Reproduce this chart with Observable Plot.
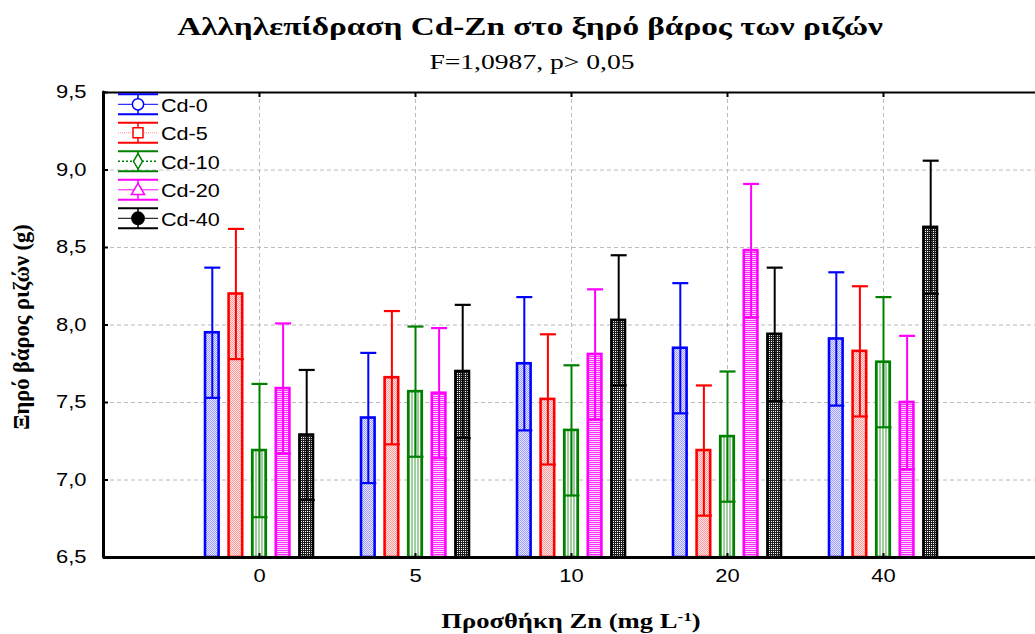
<!DOCTYPE html>
<html><head><meta charset="utf-8">
<script src="https://cdn.jsdelivr.net/npm/d3@7"></script>
<script src="https://cdn.jsdelivr.net/npm/@observablehq/plot@0.6"></script>
<style>
body{margin:0;background:#fff;}
#wrap{position:relative;width:1035px;height:634px;overflow:hidden;background:#fff;}
#wrap svg{position:absolute;left:0;top:0;}
.t{position:absolute;white-space:nowrap;font-family:"Liberation Serif","Times New Roman",serif;color:#000;line-height:1;}
#title{left:530px;top:14px;font-size:25px;font-weight:bold;transform:translateX(-50%) scaleX(1.33);}
#subtitle{left:532px;top:52px;font-size:20px;transform:translateX(-50%) scaleX(1.38);}
#xlabel{left:571px;top:610px;font-size:20px;font-weight:bold;transform:translateX(-50%) scaleX(1.33);}
#xlabel sup{font-size:13px;vertical-align:7px;}
#ylabel{left:22px;top:327px;font-size:22.5px;font-weight:bold;transform:translate(-50%,-50%) rotate(-90deg);}
</style></head><body>
<div id="wrap">
<div class="t" id="title">Αλληλεπίδραση Cd-Zn στο ξηρό βάρος των ριζών</div>
<div class="t" id="subtitle">F=1,0987, p&gt; 0,05</div>
<div class="t" id="xlabel">Προσθήκη Zn (mg L<sup>-1</sup>)</div>
<div class="t" id="ylabel">Ξηρό βάρος ριζών (g)</div>
</div>
<script>
// ---- data ----
const znLevels = ["0", "5", "10", "20", "40"];
const cdSeries = ["Cd-0", "Cd-5", "Cd-10", "Cd-20", "Cd-40"];
const cd0 = [7.95, 7.40, 7.75, 7.85, 7.91];
const cd5 = [8.20, 7.66, 7.52, 7.19, 7.83];
const cd10 = [7.19, 7.57, 7.32, 7.28, 7.76];
const cd20 = [7.59, 7.56, 7.81, 8.48, 7.50];
const cd40 = [7.29, 7.70, 8.03, 7.94, 8.63];
const err0 = [0.42, 0.42, 0.43, 0.42, 0.43];
const err5 = [0.42, 0.43, 0.42, 0.42, 0.42];
const err10 = [0.43, 0.42, 0.42, 0.42, 0.42];
const err20 = [0.42, 0.42, 0.42, 0.43, 0.43];
const err40 = [0.42, 0.43, 0.42, 0.43, 0.43];
const yTicks = [6.5, 7.0, 7.5, 8.0, 8.5, 9.0, 9.5];

const means = [cd0, cd5, cd10, cd20, cd40];
const errs = [err0, err5, err10, err20, err40];
const colors = ["#0000ff", "#ff0000", "#008000", "#ff00ff", "#000000"];

// ---- layout ----
const W = 1035, H = 634, mL = 103, mR = 0, mT = 92, mB = 77;
const plotW = W - mL - mR, plotH = H - mT - mB;
const unit = 156;                       // px per group step
const xMax = plotW / unit;
const step = 23.6 / unit, bw = 6.8 / unit, cw = 8 / unit;
const yDom = [yTicks[0], yTicks[yTicks.length - 1]];
const xPos = znLevels.map((z, i) => i + 1);

const rows = cdSeries.flatMap((s, si) => znLevels.map((z, gi) => ({
  s, si, gi, pos: gi + 1 + (si - 2) * step, mean: means[si][gi], err: errs[si][gi]
})));

const grid = {stroke: "#bcbcbc", strokeDasharray: "4,3", strokeWidth: 1};
const marks = [
  Plot.ruleY(yTicks.filter(v => v > yDom[0] && v < yDom[1]), {y: d => d, ...grid}),
  Plot.ruleX(xPos, {x: d => d, ...grid})
];
cdSeries.forEach((s, si) => {
  const r = rows.filter(d => d.si === si);
  marks.push(Plot.rectY(r, {x1: d => d.pos - bw, x2: d => d.pos + bw, y1: d => yDom[0], y2: "mean",
    fill: `url(#pat${si})`, stroke: colors[si], strokeWidth: 2.6}));
  marks.push(Plot.ruleX(r, {x: "pos", y1: d => d.mean - d.err, y2: d => d.mean + d.err, stroke: colors[si], strokeWidth: 2}));
  marks.push(Plot.link(r, {x1: d => d.pos - cw, x2: d => d.pos + cw, y1: d => d.mean + d.err, y2: d => d.mean + d.err, stroke: colors[si], strokeWidth: 2.2}));
  marks.push(Plot.link(r, {x1: d => d.pos - cw, x2: d => d.pos + cw, y1: d => d.mean - d.err, y2: d => d.mean - d.err, stroke: colors[si], strokeWidth: 2.2}));
});
marks.push(
  Plot.ruleY([yDom[1]], {y: d => d, stroke: "#000", strokeWidth: 2}),
  Plot.ruleY([yDom[0]], {y: d => d, stroke: "#000", strokeWidth: 3}),
  Plot.ruleX([0], {x: d => d, stroke: "#000", strokeWidth: 3, strokeLinecap: "round"}),
  Plot.tickY(yTicks, {y: d => d, insetRight: plotW - 5, stroke: "#000", strokeWidth: 2}),
  Plot.tickX(xPos, {x: d => d, insetBottom: plotH - 5, stroke: "#000", strokeWidth: 2}),
  Plot.tickX(xPos, {x: d => d, insetTop: plotH - 4, stroke: "#000", strokeWidth: 2}),
  Plot.text(yTicks, {y: d => d, text: d => d.toFixed(1).replace(".", ","), frameAnchor: "left",
    textAnchor: "end", dx: -17, fontSize: 18, fontFamily: "Liberation Sans, Arial, sans-serif", fill: "#000"}),
  Plot.text(xPos, {x: d => d, text: (d, i) => znLevels[i], frameAnchor: "bottom", dy: 24,
    fontSize: 18, fontFamily: "Liberation Sans, Arial, sans-serif", fill: "#000"})
);

const svg = Plot.plot({
  width: W, height: H, marginLeft: mL, marginRight: mR, marginTop: mT, marginBottom: mB,
  x: {type: "linear", domain: [0, xMax], axis: null},
  y: {type: "linear", domain: yDom, axis: null},
  style: {background: "transparent", overflow: "visible"},
  marks
});

// horizontal stretch for Arial texts (the reference is horizontally stretched)
d3.select(svg).selectAll("text").each(function() {
  const t = this.getAttribute("transform");
  if (t) this.setAttribute("transform", t + " scale(1.22,1)");
  else {
    const x = +this.getAttribute("x") || 0, y = +this.getAttribute("y") || 0;
    this.setAttribute("transform", `translate(${x},${y}) scale(1.22,1) translate(${-x},${-y})`);
  }
});

// patterns
const defs = d3.select(svg).insert("defs", ":first-child");
function pat(id, w, h, bg, cells) {
  const p = defs.append("pattern").attr("id", id).attr("patternUnits", "userSpaceOnUse")
    .attr("width", w).attr("height", h);
  p.append("rect").attr("width", w).attr("height", h).attr("fill", bg);
  cells.forEach(([x, y, cw2, ch, c]) => p.append("rect").attr("x", x).attr("y", y).attr("width", cw2).attr("height", ch).attr("fill", c));
}
pat("pat0", 2, 2, "#eaeaff", [[0, 0, 1, 1, "#9a9aff"], [1, 1, 1, 1, "#9a9aff"]]);
pat("pat1", 2, 2, "#ffe6e6", [[0, 0, 1, 1, "#ff9a9a"], [1, 1, 1, 1, "#ff9a9a"]]);
pat("pat2", 3, 3, "#ffffff", [[0, 0, 2, 3, "#9fcf9f"]]);
pat("pat3", 2, 2, "#ffd6ff", [[0, 0, 2, 1, "#ff30ff"]]);
pat("pat4", 2, 2, "#ffffff", [[0, 0, 2, 1, "#202020"], [0, 1, 1, 1, "#202020"]]);

// legend
const lg = d3.select(svg).append("g").attr("text-anchor", "start");
cdSeries.forEach((s, i) => {
  const cy = 104.3 + i * 28.5, x0 = 118, x1 = 158, cx = 138, c = colors[i];
  const g = lg.append("g");
  g.append("line").attr("x1", x0).attr("x2", x1).attr("y1", cy).attr("y2", cy).attr("stroke", i === 1 ? "#ff9090" : c)
    .attr("stroke-width", i === 2 ? 1.5 : 1).attr("stroke-dasharray", i === 2 ? "2,2" : i === 1 ? "1,1" : null);
  g.append("line").attr("x1", cx).attr("x2", cx).attr("y1", cy - 10).attr("y2", cy + 10).attr("stroke", c).attr("stroke-width", 1.5);
  [cy - 10, cy + 10].forEach(yy => g.append("line").attr("x1", x0).attr("x2", x1).attr("y1", yy).attr("y2", yy).attr("stroke", c).attr("stroke-width", 2));
  let sym;
  if (i === 0) sym = d3.symbolCircle; else if (i === 1) sym = d3.symbolSquare; else if (i === 2) sym = d3.symbolDiamond;
  else if (i === 3) sym = d3.symbolTriangle; else sym = d3.symbolCircle;
  const size = i === 2 ? 70 : i === 3 ? 75 : i === 4 ? 120 : 100;
  g.append("path").attr("d", d3.symbol(sym, size)()).attr("transform", `translate(${cx},${cy + (i === 3 ? 1 : 0)})`)
    .attr("fill", i === 4 ? "#000" : "#fff").attr("stroke", c).attr("stroke-width", 1.5);
  g.append("text").attr("x", 161).attr("y", cy + 7.5).text(s).attr("text-anchor", "start")
    .attr("font-family", "Liberation Sans, Arial, sans-serif").attr("font-size", 18).attr("fill", "#000")
    .attr("transform", `translate(161,${cy + 7.5}) scale(1.2,1) translate(-161,${-(cy + 7.5)})`);
});

document.getElementById("wrap").prepend(svg);
</script>
</body></html>
